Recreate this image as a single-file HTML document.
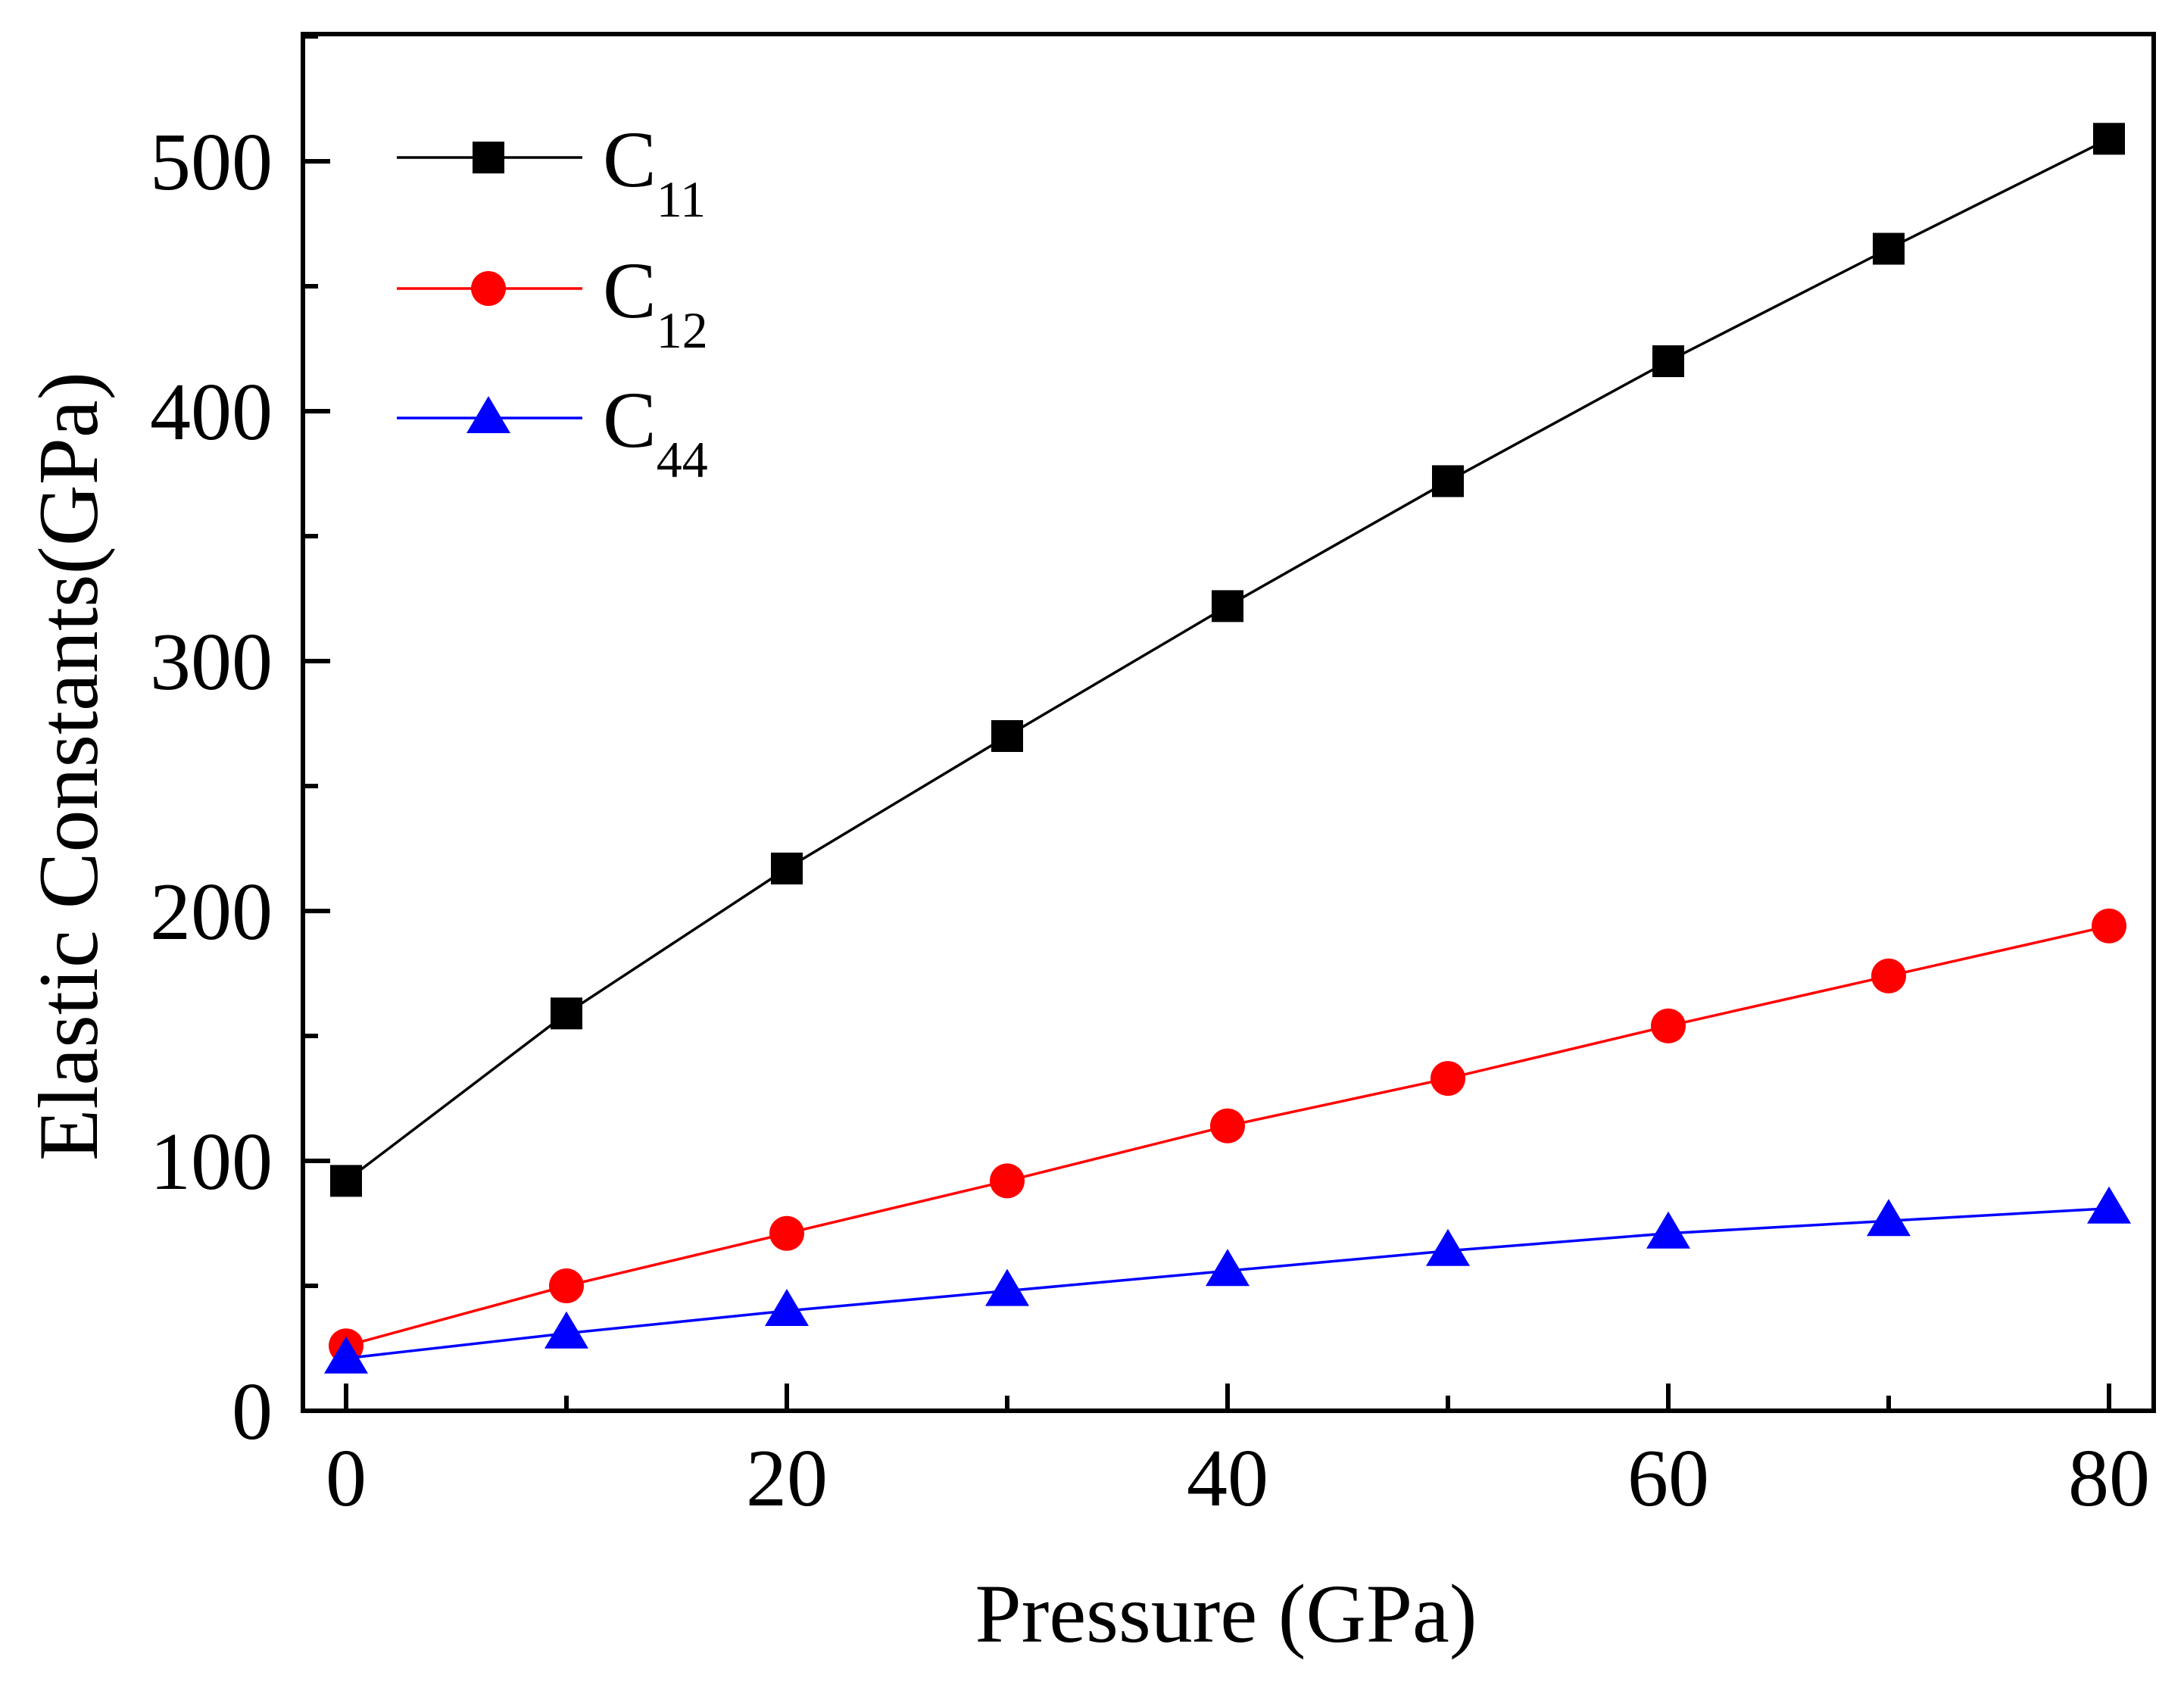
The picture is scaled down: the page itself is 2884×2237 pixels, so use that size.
<!DOCTYPE html>
<html><head><meta charset="utf-8"><style>
html,body{margin:0;padding:0;background:#fff}
svg{display:block}
text{font-family:"Liberation Serif",serif;fill:#000}
</style></head><body>
<svg id="chart" width="2884" height="2237" viewBox="0 0 2884 2237" xmlns="http://www.w3.org/2000/svg">
<g id="axes"></g>
<g id="series"></g>
<g id="legend"></g>
<text x="1619" y="2168" font-size="110" text-anchor="middle">Pressure (GPa)</text>
<text transform="translate(128,1012) rotate(-90)" font-size="112" text-anchor="middle">Elastic Constants(GPa)</text>
</svg>
<script>
const pressures = [0,10,20,30,40,50,60,70,80];
const c11 = [92,159,217,270,322,372,420,465,509];
const c12 = [26,50,71,92,114,133,154,174,194];
const c44 = [21,31,40,48,56,64,71,76,81];
const xTicks = [0,20,40,60,80];
const yTicks = [0,100,200,300,400,500];
const NS="http://www.w3.org/2000/svg";
const L=400,R=2844,T=45,B=1863;
function xs(v){return 457+(v-0)*(2785-457)/80;}
function ys(v){return 1863-v*3.3;}
function mk(tag,attrs,parent){const e=document.createElementNS(NS,tag);for(const k in attrs)e.setAttribute(k,attrs[k]);parent.appendChild(e);return e;}
const axes=document.getElementById('axes');
const frame=mk('rect',{x:L,y:T,width:R-L,height:B-T,fill:'none',stroke:'#000','stroke-width':6},axes);


for(let v=0;v<=80;v+=10){
  const major=xTicks.includes(v);
  const t=mk('line',{x1:xs(v),x2:xs(v),y1:B,y2:B-(major?36:20),stroke:'#000','stroke-width':6},axes);
  
  
  if(major){
    const lb=mk('text',{x:xs(v),y:1988,'font-size':108,'text-anchor':'middle'},axes);
    lb.textContent=v;
    
    
  }
}
for(let v=0;v<=550;v+=50){
  const major=yTicks.includes(v);
  const t=mk('line',{x1:L,x2:L+(major?36:20),y1:ys(v),y2:ys(v),stroke:'#000','stroke-width':6},axes);
  
  
  if(major){
    const lb=mk('text',{x:360,y:ys(v)+37,'font-size':108,'text-anchor':'end'},axes);
    lb.textContent=v;
    
    
  }
}
const ser=document.getElementById('series');
function marker(kind,cx,cy,color,parent){
  let m;
  if(kind==='square') m=mk('rect',{x:cx-21,y:cy-21,width:42,height:42,fill:color},parent);
  else if(kind==='circle') m=mk('circle',{cx:cx,cy:cy,r:23,fill:color},parent);
  else m=mk('polygon',{points:`${cx},${cy-29} ${cx+29},${cy+20} ${cx-29},${cy+20}`,fill:color},parent);
  return m;
}
const defs=[['c11',c11,'#000','square'],['c12',c12,'#f00','circle'],['c44',c44,'#00f','triangle']];
defs.forEach(([name,vals,color,kind])=>{
  const g=mk('g',{},ser);
  
  
  const pl=mk('polyline',{points:vals.map((v,i)=>xs(pressures[i])+','+ys(v)).join(' '),fill:'none',stroke:color,'stroke-width':3.5},g);
  
  
  vals.forEach((v,i)=>{
    const m=marker(kind,xs(pressures[i]),ys(v),color,g);
    
    
  });
});
const leg=document.getElementById('legend');
const legY=[208,381,552], subs=['11','12','44'];
defs.forEach(([name,vals,color,kind],i)=>{
  const g=mk('g',{},leg);
  
  
  mk('line',{x1:524,x2:769,y1:legY[i],y2:legY[i],stroke:color,'stroke-width':3.5},g);
  marker(kind,645,legY[i],color,g);
  const t=mk('text',{x:796,y:legY[i]+38,'font-size':106},g);
  t.textContent='C';
  const s=mk('tspan',{'font-size':68,dy:40},t);
  s.textContent=subs[i];
});
</script>
</body></html>
